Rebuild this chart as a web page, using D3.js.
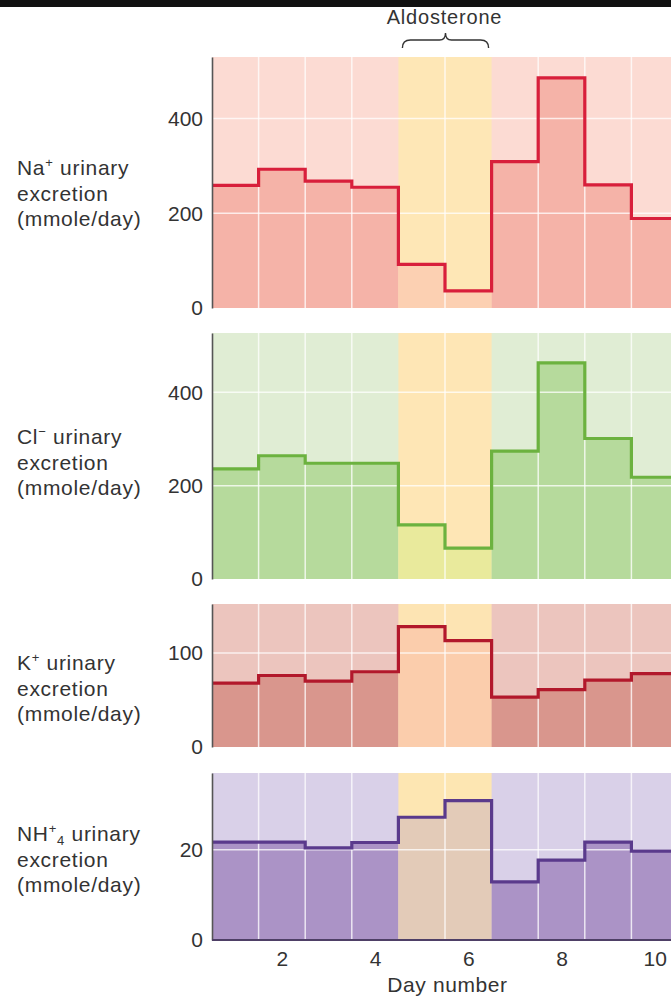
<!DOCTYPE html>
<html>
<head>
<meta charset="utf-8">
<script src="https://cdn.jsdelivr.net/npm/d3@7"></script>
<style>
  html, body { margin: 0; padding: 0; background: #fff; }
  svg { display: block; }
  text { font-family: "Liberation Sans", Arial, Helvetica, sans-serif; fill: #333; }
</style>
</head>
<body>
<svg id="chart" width="671" height="999"></svg>
<script>
// ---------- data ----------
const days = [1, 2, 3, 4, 5, 6, 7, 8, 9, 10];
const aldosteroneDays = [5, 6];
const naValues  = [259, 293, 268, 255, 92, 36, 309, 486, 260, 189];
const clValues  = [236, 264, 248, 248, 116, 66, 274, 463, 301, 218];
const kValues   = [68, 76, 70, 80, 128, 113, 53, 61, 71, 78];
const nh4Values = [21.7, 21.7, 20.4, 21.6, 27.2, 30.9, 12.9, 17.7, 21.7, 19.7];
const naTicks  = [0, 200, 400];
const clTicks  = [0, 200, 400];
const kTicks   = [0, 100];
const nh4Ticks = [0, 20];
const yMaxes   = [530, 527, 152, 37];
const xTicks   = [2, 4, 6, 8, 10];
const xTitle = "Day number";
const bracketLabel = "Aldosterone";

// ---------- layout / style (not data) ----------
const W = 671, H = 999;
const svg = d3.select("#chart");
const x = d3.scaleLinear().domain([0.5, 10.5]).range([212, 678]);
const FONT = '"Liberation Sans", Arial, Helvetica, sans-serif';

const panels = [
  { values: naValues,  ticks: naTicks,  top: 57,  bottom: 308, labelY: 175,
    above: "#fcdbd3", below: "#f5b3a8", aldoAbove: "#fee7b6", aldoBelow: "#fcd0b2", line: "#d81f3b",
    label: [{t:"Na"},{t:"+", sup:true},{t:" urinary", back:true}] },
  { values: clValues,  ticks: clTicks,  top: 333, bottom: 579, labelY: 444,
    above: "#e0edd4", below: "#b6da9c", aldoAbove: "#fee6b5", aldoBelow: "#e9ea9c", line: "#6cb23f",
    label: [{t:"Cl"},{t:"\u2212", sup:true},{t:" urinary", back:true}] },
  { values: kValues,   ticks: kTicks,   top: 604, bottom: 747, labelY: 670,
    above: "#ecc5be", below: "#d9968d", aldoAbove: "#fde4b3", aldoBelow: "#fbcdac", line: "#b2182b",
    label: [{t:"K"},{t:"+", sup:true},{t:" urinary", back:true}] },
  { values: nh4Values, ticks: nh4Ticks, top: 773, bottom: 940, labelY: 841,
    above: "#d9d0e8", below: "#ab93c6", aldoAbove: "#fde6b2", aldoBelow: "#e3cbb8", line: "#5a3a8c",
    label: [{t:"NH"},{t:"+", sup:true},{t:"4", sub:true},{t:" urinary", back:true}] }
];

// top black bar
svg.append("rect").attr("x", 0).attr("y", 0).attr("width", W).attr("height", 7).attr("fill", "#111");

// aldosterone label + brace
const ax1 = x(aldosteroneDays[0] - 0.5) + 4, ax2 = x(aldosteroneDays[1] + 0.5) - 3, axc = (ax1 + ax2) / 2;
svg.append("text").attr("x", axc - 1).attr("y", 24).attr("text-anchor", "middle")
  .attr("font-size", 20).attr("letter-spacing", 0.8).text(bracketLabel);
svg.append("path")
  .attr("d", `M${ax1},48 Q${ax1},40 ${ax1+8},40 L${axc-6},40 Q${axc},40 ${axc},33 Q${axc},40 ${axc+6},40 L${ax2-8},40 Q${ax2},40 ${ax2},48`)
  .attr("fill", "none").attr("stroke", "#333").attr("stroke-width", 1.4);

panels.forEach((p, i) => {
  const y = d3.scaleLinear().domain([0, yMaxes[i]]).range([p.bottom, p.top]);
  const g = svg.append("g");
  const clipId = "clip" + i;
  g.append("clipPath").attr("id", clipId).append("rect")
    .attr("x", x(0.5)).attr("y", p.top).attr("width", W - x(0.5)).attr("height", p.bottom - p.top);
  const cg = g.append("g").attr("clip-path", `url(#${clipId})`);

  // background (above line)
  cg.append("rect").attr("x", x(0.5)).attr("y", p.top).attr("width", x(10.5) - x(0.5))
    .attr("height", p.bottom - p.top).attr("fill", p.above);
  cg.append("rect").attr("x", x(aldosteroneDays[0] - 0.5)).attr("y", p.top)
    .attr("width", x(aldosteroneDays[1] + 0.5) - x(aldosteroneDays[0] - 0.5))
    .attr("height", p.bottom - p.top).attr("fill", p.aldoAbove);

  // bars below the line
  cg.selectAll("rect.bar").data(days).join("rect").attr("class", "bar")
    .attr("x", d => x(d - 0.5)).attr("width", d => x(d + 0.5) - x(d - 0.5))
    .attr("y", (d, j) => y(p.values[j])).attr("height", (d, j) => y(0) - y(p.values[j]))
    .attr("fill", d => aldosteroneDays.includes(d) ? p.aldoBelow : p.below);

  // grid lines
  cg.selectAll("line.hg").data(p.ticks.filter(t => t > 0)).join("line").attr("class", "hg")
    .attr("x1", x(0.5)).attr("x2", x(10.5)).attr("y1", d => y(d)).attr("y2", d => y(d))
    .attr("stroke", "#fff").attr("stroke-opacity", 0.75).attr("stroke-width", 1.5);
  cg.selectAll("line.vg").data(days.slice(0, -1).filter(d => d !== 4 && d !== 6)).join("line").attr("class", "vg")
    .attr("x1", d => x(d + 0.5)).attr("x2", d => x(d + 0.5)).attr("y1", p.top).attr("y2", p.bottom)
    .attr("stroke", "#fff").attr("stroke-opacity", 0.75).attr("stroke-width", 1.5);

  // step line
  const pts = days.map((d, j) => [d - 0.5, p.values[j]]).concat([[10.5, p.values[p.values.length - 1]]]);
  const line = d3.line().x(d => x(d[0])).y(d => y(d[1])).curve(d3.curveStepAfter);
  cg.append("path").attr("d", line(pts)).attr("fill", "none")
    .attr("stroke", p.line).attr("stroke-width", 3.2).attr("stroke-linejoin", "miter");

  // y axis
  const yAxis = d3.axisLeft(y).tickValues(p.ticks).tickSize(0).tickPadding(9).tickFormat(d3.format("d"));
  const ag = g.append("g").attr("transform", `translate(${x(0.5)},0)`).call(yAxis);
  ag.select(".domain").attr("stroke", "#555").attr("stroke-width", 1.6);
  ag.selectAll("text").attr("font-size", 21).attr("fill", "#333").attr("font-family", FONT);

  // left label
  const lt = g.append("text").attr("x", 17).attr("y", p.labelY).attr("font-size", 21).attr("letter-spacing", 0.7);
  p.label.forEach(s => {
    const ts = lt.append("tspan").text(s.t);
    if (s.sup) ts.attr("font-size", 13).attr("dy", -8);
    else if (s.sub) ts.attr("font-size", 13).attr("dy", 12);
    else if (s.back) ts.attr("dy", p.label.some(q => q.sub) ? -4 : 8);
  });
  g.append("text").attr("x", 17).attr("y", p.labelY + 25.5).attr("font-size", 21).attr("letter-spacing", 0.7).text("excretion");
  g.append("text").attr("x", 17).attr("y", p.labelY + 51).attr("font-size", 21).attr("letter-spacing", 0.7).text("(mmole/day)");

  if (i === panels.length - 1) {
    g.append("line").attr("x1", x(0.5)).attr("x2", W).attr("y1", y(0)).attr("y2", y(0))
      .attr("stroke", "#4e3f66").attr("stroke-width", 2);
    const xAxis = d3.axisBottom(x).tickValues(xTicks).tickSize(0).tickPadding(11).tickFormat(d3.format("d"));
    const xg = g.append("g").attr("transform", `translate(0,${y(0)})`).call(xAxis);
    xg.select(".domain").remove();
    xg.selectAll("text").attr("font-size", 21).attr("fill", "#333").attr("font-family", FONT);
    svg.append("text").attr("x", axc + 2).attr("y", 992).attr("text-anchor", "middle")
      .attr("font-size", 21).attr("letter-spacing", 0.6).text(xTitle);
  }
});
</script>
</body>
</html>
